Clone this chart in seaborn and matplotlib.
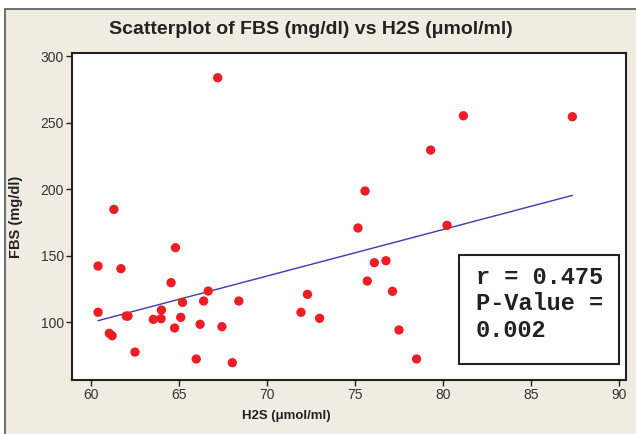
#!/usr/bin/env python3
# -*- coding: utf-8 -*-

"""
Scatterplot of FBS vs H2S with a fitted line (Minitab look)
"""

import matplotlib
matplotlib.use('Agg')
import matplotlib.pyplot as plt
from matplotlib.patches import Rectangle
import pandas as pd
import seaborn as sns

# values
h2s = [67.2, 61.3, 60.4, 61.7, 64.8, 64.55, 60.4, 66.66, 65.2, 66.4,
       68.4, 64.0, 62.0, 62.1, 63.54, 63.98, 65.1, 61.04, 61.2, 64.75,
       66.2, 67.44, 62.5, 65.98, 68.03, 71.93, 72.3, 72.99, 81.16, 87.35,
       79.3, 75.57, 75.17, 80.23, 76.1, 76.76, 75.7, 77.13, 77.5, 78.5]
fbs = [283.7, 184.7, 142.1, 140.1, 155.9, 129.6, 107.3, 123.3, 114.8, 115.8,
       115.8, 109.0, 104.5, 104.5, 102.0, 102.5, 103.5, 91.5, 89.7, 95.5,
       98.3, 96.5, 77.4, 72.2, 69.4, 107.3, 120.8, 102.8, 255.1, 254.4,
       229.3, 198.5, 170.7, 172.7, 144.6, 146.1, 130.8, 123.1, 94.0, 72.2]
x_ticks = [60, 65, 70, 75, 80, 85, 90]
y_ticks = [100, 150, 200, 250, 300]
stats_lines = ['r = 0.475', 'P-Value =', '0.002']

df = pd.DataFrame({'H2S': h2s, 'FBS': fbs})

sns.set_theme(style='ticks')
plt.rcParams['font.family'] = ['Liberation Sans', 'DejaVu Sans']

beige = '#f1ece2'
fig = plt.figure(figsize=(6.36, 4.34), dpi=100, facecolor='white')
# panel background with the grey frame at top and left
fig.patches.append(Rectangle((5 / 636, -0.1), 1.0, (434 - 9) / 434 + 0.1,
                             transform=fig.transFigure, facecolor=beige,
                             edgecolor='#555555', linewidth=1.2, zorder=-1))

ax = fig.add_axes([72 / 636, 1 - 380 / 434, 554 / 636, 327 / 434])
ax.set_facecolor('white')

sns.regplot(data=df, x='H2S', y='FBS', scatter=False, ci=None, ax=ax,
            line_kws={'color': '#3b3bb0', 'linewidth': 1.0})
sns.scatterplot(data=df, x='H2S', y='FBS', ax=ax, color='#ee1c25',
                edgecolor='none', s=45, zorder=3)

ax.set_xlim(58.92, 90.4)
ax.set_ylim(56.4, 302.3)
ax.set_xticks(x_ticks)
ax.set_yticks(y_ticks)
ax.tick_params(direction='out', length=4, width=1.0, colors='#222222',
               labelsize=10, labelcolor='#333333', pad=2)
for side in ['top', 'right', 'left', 'bottom']:
    ax.spines[side].set_visible(True)
    ax.spines[side].set_color('#222222')
    ax.spines[side].set_linewidth(1.5)

ax.set_xlabel('H2S (μmol/ml)', fontsize=9.5, fontweight='bold', color='#222222')
ax.xaxis.set_label_coords((286 - 72) / 554, -0.092)
ax.set_ylabel('FBS (mg/dl)', fontsize=10.5, fontweight='bold', color='#222222')
ax.yaxis.set_label_coords((23 - 72) / 554, 0.5)

fig.text(311 / 636, 1 - 30 / 434, 'Scatterplot of FBS (mg/dl) vs H2S (μmol/ml)',
         ha='center', va='center', fontsize=14, fontweight='bold',
         color='#222222')

# r / p-value box
ax.add_patch(Rectangle((0.6986, 0.0489), 0.2888, 0.3333, transform=ax.transAxes,
                       facecolor='white', edgecolor='#222222', linewidth=1.5,
                       zorder=4))
for i, line in enumerate(stats_lines):
    ax.text(0.729, (380 - 277 - 26.7 * i) / 327, line, transform=ax.transAxes,
            ha='left', va='center', fontsize=17, fontweight='bold',
            family=['Liberation Mono', 'DejaVu Sans Mono'], color='#222222',
            zorder=5)

fig.savefig('out.png', dpi=100, facecolor=fig.get_facecolor())
